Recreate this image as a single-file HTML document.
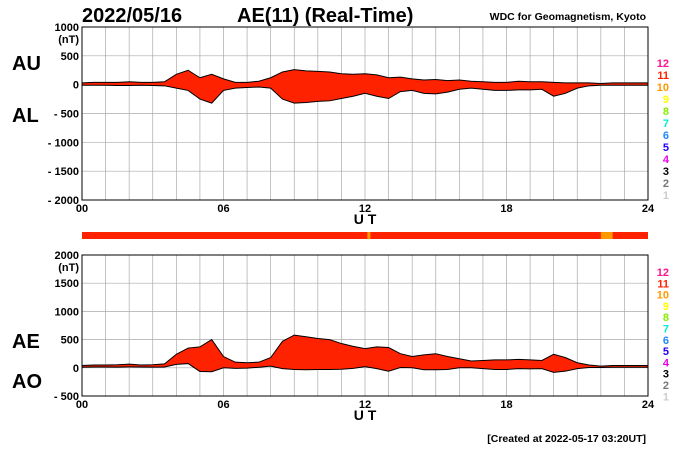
<!DOCTYPE html>
<html><head><meta charset="utf-8"><style>
body{margin:0;background:#fff;font-family:"Liberation Sans",sans-serif}
svg text{font-family:"Liberation Sans",sans-serif;font-weight:bold}
</style></head><body>
<svg id="c" width="700" height="450" viewBox="0 0 700 450">
<text x="82" y="22" font-size="20">2022/05/16</text>
<text x="237" y="22" font-size="20">AE(11) (Real-Time)</text>
<text x="646" y="20" font-size="10.5" text-anchor="end" font-weight="normal">WDC for Geomagnetism, Kyoto</text>
<text x="646" y="442" font-size="10.5" text-anchor="end">[Created at 2022-05-17 03:20UT]</text>
<g id="g"></g>
</svg>
<script>
const hours=[0,0.5,1,1.5,2,2.5,3,3.5,4,4.5,5,5.5,6,6.5,7,7.5,8,8.5,9,9.5,10,10.5,11,11.5,12,12.5,13,13.5,14,14.5,15,15.5,16,16.5,17,17.5,18,18.5,19,19.5,20,20.5,21,21.5,22,22.5,23,23.5,24];
const auValues=[30,40,40,40,50,40,40,50,180,250,120,180,100,40,40,60,120,220,260,240,230,220,190,180,190,170,120,130,100,80,90,70,80,60,50,40,40,60,50,50,40,30,30,30,20,30,30,30,30];
const alValues=[-10,-10,-10,-15,-15,-10,-15,-20,-60,-100,-250,-320,-100,-60,-50,-40,-60,-250,-320,-310,-290,-280,-240,-200,-150,-200,-240,-120,-100,-150,-160,-130,-80,-60,-80,-100,-100,-90,-90,-80,-200,-150,-60,-20,-10,-10,-10,-10,-10];
const xTicks=["00","06","12","18","24"];
const topYTicks=[1000,500,0,-500,-1000,-1500,-2000];
const botYTicks=[2000,1500,1000,500,0,-500];
const ns="http://www.w3.org/2000/svg",g=document.getElementById('g');
function el(t,a,p){const e=document.createElementNS(ns,t);for(const k in a)e.setAttribute(k,a[k]);(p||g).appendChild(e);return e;}
const X0=82,X1=648;
const x=h=>X0+(X1-X0)*h/24;
const colors=["#ff1493","#ff2200","#ff9900","#ffff00","#88ee00","#00eecc","#2288ff","#2200ff","#ee00ee","#000","#777","#ccc"];
function panel(top,bot,vmax,vmin,ticks,upper,lower,nm,legY,legStep){
  const y=v=>top+(bot-top)*(vmax-v)/(vmax-vmin);
  for(let h=0;h<=24;h++){const l=el('line',{x1:x(h),x2:x(h),y1:top,y2:bot,stroke:'#aaa','stroke-width':0.7});
    }
  ticks.forEach(v=>{const l=el('line',{x1:X0,x2:X1,y1:y(v),y2:y(v),stroke:'#aaa','stroke-width':0.7});
    
    const t=el('text',{x:X0-3,y:y(v)+4,'font-size':11,'text-anchor':'end'});t.textContent=v<0?'- '+(-v):v;
    });
  const u=el('text',{x:X0-3,y:y(ticks[0])+16,'font-size':11,'text-anchor':'end'});u.textContent='(nT)';
  
  let d='M'+hours.map((h,i)=>x(h)+','+y(upper[i])).join('L');
  for(let i=hours.length-1;i>=0;i--)d+='L'+x(hours[i])+','+y(lower[i]);
  const p=el('path',{d:d+'Z',fill:'#ff2200',stroke:'#000','stroke-width':1});
  
  el('rect',{x:X0,y:top,width:X1-X0,height:bot-top,fill:'none',stroke:'#000','stroke-width':1});
  xTicks.forEach((s,i)=>{const t=el('text',{x:x(i*6),y:bot+12,'font-size':11,'text-anchor':'middle'});t.textContent=s;
    });
  const ut=el('text',{x:x(12),y:bot+24,'font-size':14,'text-anchor':'middle'});ut.textContent='U T';
  
  for(let i=0;i<12;i++){const t=el('text',{x:669,y:legY+i*legStep,'font-size':11,'text-anchor':'end',fill:colors[i]});t.textContent=12-i;
    }
  return y;
}
const yt=panel(27,200,1000,-2000,topYTicks,auValues,alValues,'au-al',67,12);
const aeValues=auValues.map((v,i)=>v-alValues[i]);
const aoValues=auValues.map((v,i)=>(v+alValues[i])/2);
const yb=panel(255,396,2000,-500,botYTicks,aeValues,aoValues,'ae-ao',276,11.3);
[['AU',12,70],['AL',12,122],['AE',12,348],['AO',12,388]].forEach(a=>{const t=el('text',{x:a[1],y:a[2],'font-size':20});t.textContent=a[0];
  });
const s=el('rect',{x:X0,y:232,width:X1-X0,height:7,fill:'#ff2200'});

const s2=el('rect',{x:x(22),y:232,width:x(22.5)-x(22),height:7,fill:'#ff9900'});

const s3=el('rect',{x:x(12.1),y:232,width:3,height:7,fill:'#ff9900'});

</script>
</body></html>
